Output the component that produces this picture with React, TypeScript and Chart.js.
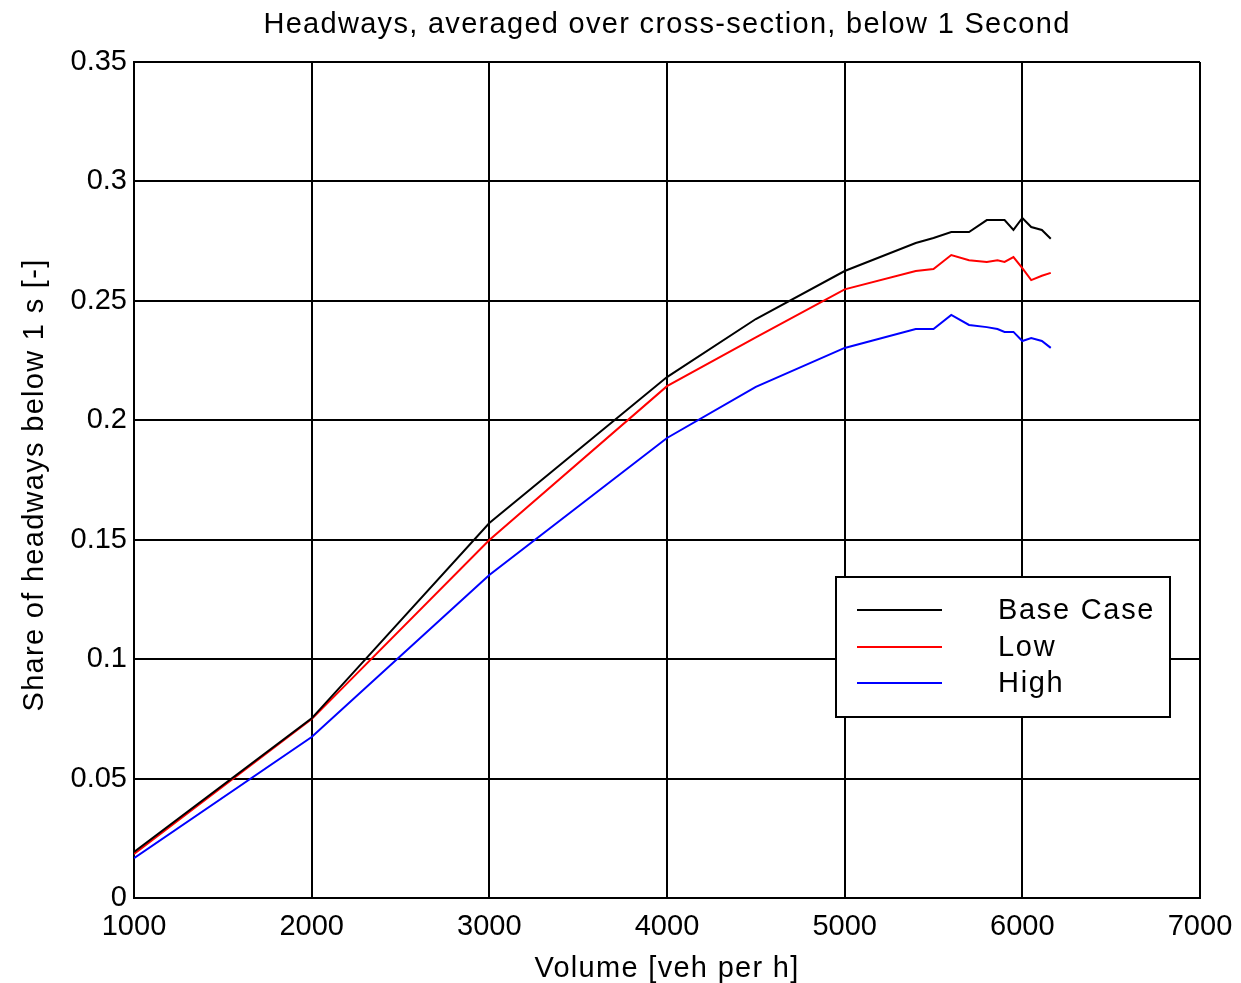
import React, { useEffect, useRef } from "react";
import { Chart, registerables } from "chart.js";

Chart.register(...registerables);

const volume = [1000, 2000, 3000, 4000, 4500, 5000, 5400, 5500, 5600, 5700, 5800, 5860, 5900, 5950, 6000, 6050, 6110, 6160];
const baseCase = [0.0193, 0.0752, 0.157, 0.2181, 0.2424, 0.2625, 0.2742, 0.2763, 0.2788, 0.2788, 0.2838, 0.2838, 0.2838, 0.2797, 0.2847, 0.2809, 0.2797, 0.276];
const low = [0.0184, 0.0749, 0.1499, 0.2143, 0.2347, 0.2548, 0.2625, 0.2633, 0.2692, 0.267, 0.2663, 0.267, 0.2663, 0.2683, 0.2637, 0.2587, 0.2605, 0.2617];
const high = [0.0167, 0.0674, 0.1352, 0.1926, 0.214, 0.2303, 0.2382, 0.2382, 0.2441, 0.2399, 0.239, 0.2382, 0.237, 0.237, 0.2332, 0.2344, 0.2332, 0.2303];

const seriesNames = ["Base Case", "Low", "High"];
const seriesColors = ["#000000", "#ff0000", "#0000ff"];
const yTickLabels = ["0", "0.05", "0.1", "0.15", "0.2", "0.25", "0.3", "0.35"];
const xTickLabels = ["1000", "2000", "3000", "4000", "5000", "6000", "7000"];

const titleText = "Headways, averaged over cross-section, below 1 Second";
const xTitle = "Volume [veh per h]";
const yTitle = "Share of headways below 1 s [-]";

const FONT = "'Liberation Sans', Arial, Helvetica, sans-serif";

export default function App() {
  const ref = useRef<HTMLCanvasElement | null>(null);

  useEffect(() => {
    document.body.style.margin = "0";
    const canvas = ref.current!;
    const seriesData = [baseCase, low, high];

    const textPlugin = {
      id: "customText",
      afterDraw(chart: any) {
        const ctx = chart.ctx;
        ctx.save();
        ctx.fillStyle = "#000";
        ctx.font = `29px ${FONT}`;
        ctx.textAlign = "center";
        ctx.textBaseline = "alphabetic";
        (ctx as any).letterSpacing = "1.3px";
        ctx.fillText(titleText, 667, 33);
        ctx.fillText(xTitle, 667, 977);
        ctx.save();
        ctx.translate(43, 485);
        ctx.rotate(-Math.PI / 2);
        ctx.fillText(yTitle, 0, 0);
        ctx.restore();

        // legend
        const lx = 836, ly = 577, lw = 334, lh = 140;
        ctx.fillStyle = "#fff";
        ctx.fillRect(lx, ly, lw, lh);
        ctx.strokeStyle = "#000";
        ctx.lineWidth = 2;
        ctx.strokeRect(lx, ly, lw, lh);
        const rows = [610, 647, 683];
        ctx.textAlign = "left";
        ctx.textBaseline = "middle";
        (ctx as any).letterSpacing = "1.7px";
        seriesNames.forEach((n, i) => {
          ctx.strokeStyle = seriesColors[i];
          ctx.beginPath();
          ctx.moveTo(857, rows[i]);
          ctx.lineTo(942, rows[i]);
          ctx.stroke();
          ctx.fillStyle = "#000";
          ctx.fillText(n, 998, rows[i] + 1);
        });
        (ctx as any).letterSpacing = "0px";
        ctx.restore();
        (ctx as any).letterSpacing = "0px";
      },
    };

    const chart = new Chart(canvas, {
      type: "line",
      data: {
        datasets: seriesNames.map((name, i) => ({
          label: name,
          data: volume.map((v, j) => ({ x: v, y: seriesData[i][j] })),
          borderColor: seriesColors[i],
          backgroundColor: seriesColors[i],
          borderWidth: 2,
          pointRadius: 0,
          tension: 0,
          fill: false,
        })),
      },
      options: {
        responsive: false,
        animation: false,
        layout: { padding: { top: 62, right: 41, bottom: 0, left: 0 } },
        plugins: {
          legend: { display: false },
          title: { display: false },
          tooltip: { enabled: false },
        },
        scales: {
          x: {
            type: "linear",
            min: 1000,
            max: 7000,
            afterFit: (s: any) => {
              s.height = 85;
              s.paddingLeft = 0;
              s.paddingRight = 0;
            },
            afterBuildTicks: (s: any) => {
              s.ticks = xTickLabels.map((t) => ({ value: Number(t) }));
            },
            ticks: {
              color: "#000",
              font: { family: FONT, size: 29 },
              padding: 12,
              maxRotation: 0,
              callback: (v: any) => String(v),
            },
            grid: { color: "#000", lineWidth: 2, drawTicks: false },
            border: { color: "#000", width: 2 },
          },
          y: {
            type: "linear",
            min: 0,
            max: 0.35,
            afterFit: (s: any) => {
              s.width = 134;
              s.paddingTop = 0;
              s.paddingBottom = 0;
            },
            afterBuildTicks: (s: any) => {
              s.ticks = yTickLabels.map((t) => ({ value: Number(t) }));
            },
            ticks: {
              color: "#000",
              font: { family: FONT, size: 29 },
              padding: 7,
              callback: (v: any) => {
                const idx = yTickLabels.findIndex((t) => Math.abs(Number(t) - v) < 1e-9);
                return idx >= 0 ? yTickLabels[idx] : "";
              },
            },
            grid: { color: "#000", lineWidth: 2, drawTicks: false },
            border: { color: "#000", width: 2 },
          },
        },
      },
      plugins: [textPlugin],
    });
    return () => chart.destroy();
  }, []);

  return <canvas ref={ref} width={1241} height={983} style={{ display: "block" }} />;
}
